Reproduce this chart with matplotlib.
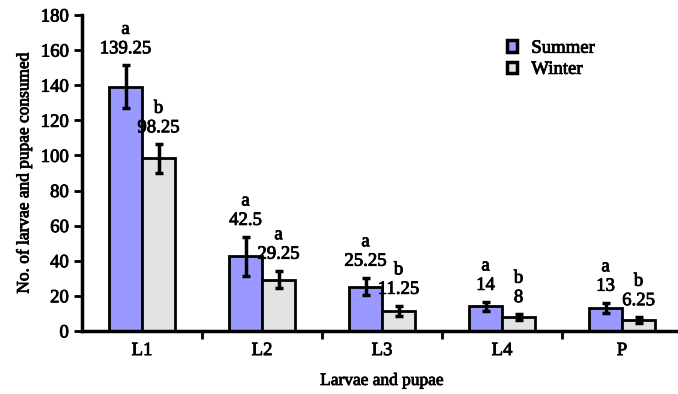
import matplotlib
matplotlib.use("Agg")
import matplotlib.pyplot as plt
import matplotlib.patheffects as pe
import numpy as np
from matplotlib.patches import Patch

categories = ["L1", "L2", "L3", "L4", "P"]
summer = [139.25, 42.5, 25.25, 14, 13]
winter = [98.25, 29.25, 11.25, 8, 6.25]
summer_err = [12, 11, 5, 2.5, 3]
winter_err = [8, 5, 3, 1.5, 1.5]
summer_letters = ["a", "a", "a", "a", "a"]
winter_letters = ["b", "a", "b", "b", "b"]
summer_labels = ["139.25", "42.5", "25.25", "14", "13"]
winter_labels = ["98.25", "29.25", "11.25", "8", "6.25"]

plt.rcParams['font.family'] = ['Liberation Serif', 'DejaVu Serif']
heavy = [pe.withStroke(linewidth=0.6, foreground="black")]

fig = plt.figure(figsize=(6.78, 3.94), dpi=100)
ax = fig.add_axes([0.121, 0.160, 0.885, 0.802])

x = np.arange(len(categories))
w = 0.275
c_sum = "#9999ff"
c_win = "#e3e3e3"
ekw = dict(elinewidth=2.5, capthick=2.5, capsize=3, ecolor="black")
ax.bar(x - w/2, summer, w, color=c_sum, edgecolor="black", linewidth=2,
       yerr=summer_err, error_kw=ekw, label="Summer", zorder=2)
ax.bar(x + w/2, winter, w, color=c_win, edgecolor="black", linewidth=2,
       yerr=winter_err, error_kw=ekw, label="Winter", zorder=2)

fs = 13.5
for i in range(len(categories)):
    for xo, v, e, lab, let in [(x[i] - w/2, summer[i], summer_err[i], summer_labels[i], summer_letters[i]),
                               (x[i] + w/2, winter[i], winter_err[i], winter_labels[i], winter_letters[i])]:
        ax.annotate(lab, (xo, v + e), xytext=(0, 12), textcoords="offset points",
                    ha="center", va="center", fontsize=fs, path_effects=heavy)
        ax.annotate(let, (xo, v + e), xytext=(0, 26), textcoords="offset points",
                    ha="center", va="center", fontsize=fs, path_effects=heavy)

ax.set_xlim(-0.5, 4.5)
ax.set_ylim(0, 180)
ax.set_yticks(np.arange(0, 181, 20))
ax.set_xticks(x)
ax.set_xticklabels(categories, fontsize=fs)
ax.set_xticks(np.arange(0.5, 4.5, 1), minor=True)
ax.tick_params(axis="x", which="major", length=0, pad=8)
ax.tick_params(axis="x", which="minor", length=6, width=2)
ax.tick_params(axis="y", length=6, width=2, labelsize=fs)
for t in ax.get_yticklabels() + ax.get_xticklabels():
    t.set_path_effects(heavy)
for s in ["top", "right"]:
    ax.spines[s].set_visible(False)
for s in ["left", "bottom"]:
    ax.spines[s].set_linewidth(2.5)

ax.set_ylabel("No. of larvae and pupae consumed", fontsize=12.5, path_effects=heavy, labelpad=6)
ax.set_xlabel("Larvae and pupae", fontsize=12.5, path_effects=heavy, labelpad=10)

handles = [Patch(facecolor=c_sum, edgecolor="black", linewidth=2.5),
           Patch(facecolor=c_win, edgecolor="black", linewidth=2.5)]
leg = ax.legend(handles, ["Summer", "Winter"], loc="upper left", bbox_to_anchor=(0.68, 0.975),
                frameon=False, handlelength=0.55, handleheight=0.55,
                handletextpad=0.75, labelspacing=0.22, prop={"size": fs})
for t in leg.get_texts():
    t.set_path_effects(heavy)

fig.savefig("out.png", dpi=100)
